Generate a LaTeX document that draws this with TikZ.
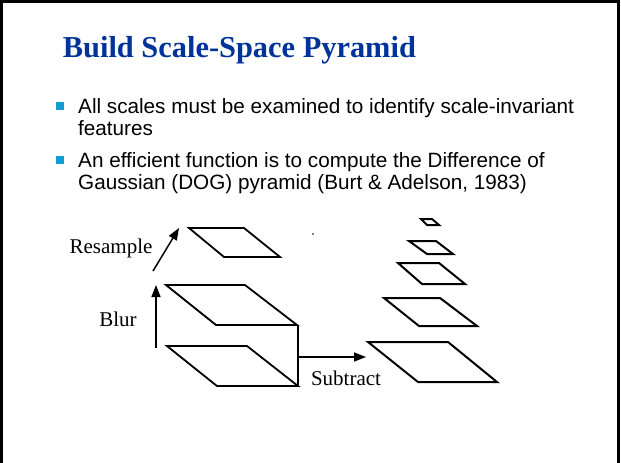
\documentclass[tikz,border=0pt]{standalone}
\usepackage{fontspec}
\setmainfont{Liberation Serif}
\newfontfamily\arialfont{Liberation Sans}
\usetikzlibrary{arrows.meta}
\definecolor{titleblue}{RGB}{0,51,153}
\definecolor{bulletblue}{RGB}{20,155,210}
\tikzset{
  plane/.style={draw=black, line width=1.8pt, line join=miter},
  smallplane/.style={draw=black, line width=2pt, line join=miter},
  flow/.style={draw=black, line width=1.5pt, -{Triangle[length=12pt,width=9pt]}},
  plain/.style={draw=black, line width=1.5pt},
  title/.style={font=\fontsize{30.4}{34}\selectfont\bfseries, text=titleblue, anchor=base west, inner sep=0pt},
  bullettext/.style={font=\arialfont\fontsize{20.7}{24}\selectfont, anchor=base west, inner sep=0pt},
  bulletmark/.style={fill=bulletblue, draw=none, minimum size=7.5pt, inner sep=0pt},
  lbl/.style={font=\fontsize{21}{24}\selectfont, anchor=base, inner sep=0pt},
}
\begin{document}
\begin{tikzpicture}[x=1pt,y=-1pt]
\path[use as bounding box] (0,0) rectangle (621,463);
\fill[white] (0,0) rectangle (621,463);
% frame
\draw[line width=2.6pt] (1.4,463) -- (1.4,1.4) -- (618.6,1.4) -- (618.6,463);

% title
\node[title] (title) at (62.7,57.7) {Build Scale-Space Pyramid};

% bullets
\node[bulletmark] (b1) at (60,106) {};
\node[bullettext] (t1) at (78,113) {All scales must be examined to identify scale-invariant};
\node[bullettext] (t2) at (78,135) {features};
\node[bulletmark] (b2) at (60,160) {};
\node[bullettext] (t3) at (78,167) {An efficient function is to compute the Difference of};
\node[bullettext] (t4) at (78,189) {Gaussian (DOG) pyramid (Burt \& Adelson, 1983)};

% left stack
\draw[plane] (189,228) -- (244,228) -- (280,257) -- (224,257) -- cycle;
\draw[plane] (166,285) -- (245,285) -- (297,325) -- (216,325) -- cycle;
\draw[plane] (167,346) -- (247,346) -- (298,386) -- (217,386) -- cycle;
\coordinate (midR) at (298,325);
\coordinate (botR) at (298,385);
\coordinate (sub0) at (298,357);
\coordinate (sub1) at (366,357);
\draw[plain] (midR) -- (botR);
\draw[flow] (sub0) -- (sub1);

% arrows
\coordinate (blur0) at (156,348);
\coordinate (blur1) at (156,285);
\draw[flow] (blur0) -- (blur1);
\coordinate (res0) at (153,271);
\coordinate (res1) at (179,228);
\draw[flow] (res0) -- (res1);

% labels
\node[lbl] (lres) at (111,253) {Resample};
\node[lbl] (lblur) at (118,326) {Blur};
\node[lbl] (lsub) at (346,385) {Subtract};

% dot
\fill (313,234) circle (0.9pt);

% right pyramid
\draw[smallplane] (421,219) -- (432,219) -- (439,225) -- (427,225) -- cycle;
\draw[smallplane] (409,241) -- (436,241) -- (453,254) -- (427,254) -- cycle;
\draw[smallplane] (398,263) -- (439,263) -- (465,284) -- (422,284) -- cycle;
\draw[smallplane] (384,298) -- (440,298) -- (477,326) -- (419,326) -- cycle;
\draw[smallplane] (368,342) -- (448,342) -- (497,382) -- (418,382) -- cycle;
\end{tikzpicture}
\end{document}
